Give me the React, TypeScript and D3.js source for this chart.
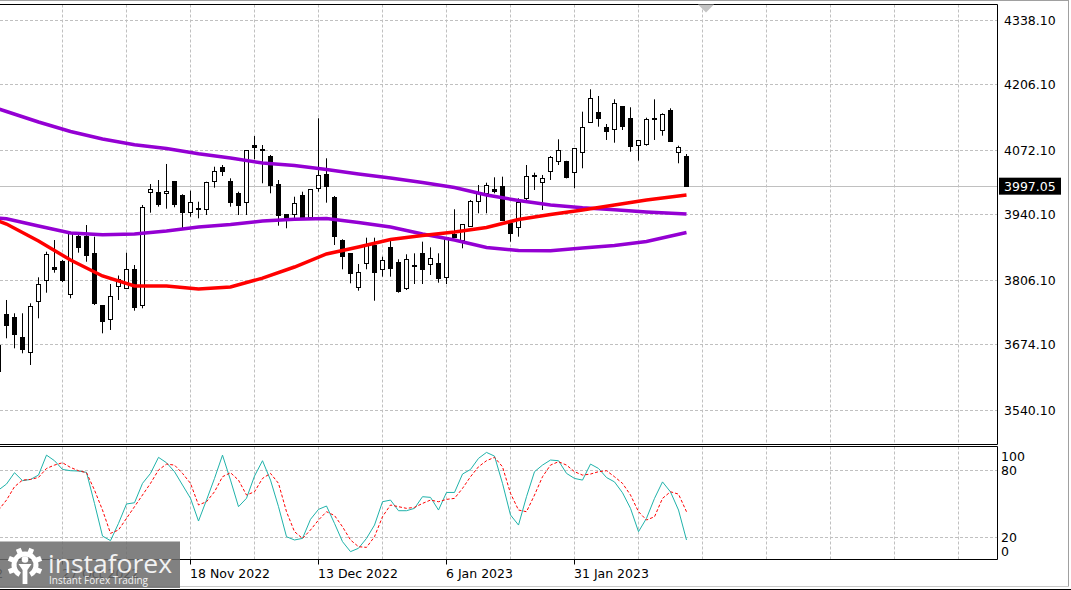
import * as d3 from 'd3';
import React from 'react';

const W = 1071;
const H = 590;

// daily bars, first one is cut by the left edge
const firstBar = -1;
// [open, high, low, close]
const ohlc: [number, number, number, number][] = [
  [3673.1, 3677.2, 3615.8, 3617.9],
  [3735.9, 3765.2, 3686.8, 3712.6],
  [3729.0, 3738.0, 3666.3, 3693.6],
  [3688.0, 3738.0, 3656.1, 3664.9],
  [3657.3, 3758.4, 3632.2, 3751.5],
  [3761.7, 3811.6, 3727.7, 3795.9],
  [3804.7, 3864.0, 3780.1, 3857.3],
  [3831.3, 3887.9, 3821.0, 3828.0],
  [3843.5, 3847.0, 3802.0, 3804.7],
  [3776.8, 3904.9, 3768.7, 3901.7],
  [3896.1, 3901.7, 3862.0, 3872.2],
  [3896.1, 3918.6, 3843.5, 3855.8],
  [3861.3, 3894.7, 3754.9, 3758.4],
  [3752.9, 3752.9, 3697.0, 3720.8],
  [3725.7, 3797.9, 3703.8, 3771.9],
  [3792.4, 3815.3, 3765.2, 3807.5],
  [3789.7, 3862.0, 3787.7, 3828.0],
  [3826.6, 3836.8, 3743.3, 3749.8],
  [3752.9, 3959.6, 3748.2, 3954.9],
  [3984.7, 4002.5, 3943.8, 3991.7],
  [3984.7, 4010.7, 3956.1, 3961.0],
  [3983.5, 4043.5, 3952.0, 3988.2],
  [4007.2, 4008.7, 3954.9, 3959.6],
  [3978.0, 3981.5, 3911.9, 3943.8],
  [3943.8, 3988.8, 3935.6, 3965.7],
  [3951.4, 3966.3, 3932.3, 3950.1],
  [3950.8, 4007.2, 3939.1, 4005.2],
  [4007.2, 4037.9, 3995.0, 4029.1],
  [4036.7, 4041.4, 4018.9, 4027.7],
  [4007.2, 4014.2, 3956.1, 3964.3],
  [3983.5, 3986.8, 3939.1, 3958.9],
  [3965.1, 4072.1, 3939.1, 4070.1],
  [4080.3, 4100.7, 4053.1, 4077.6],
  [4073.5, 4082.3, 4004.0, 4070.7],
  [4058.4, 4061.9, 3983.5, 3999.1],
  [4000.5, 4010.7, 3917.2, 3937.1],
  [3940.5, 3941.1, 3911.9, 3933.6],
  [3940.5, 3976.5, 3932.3, 3963.0],
  [3980.0, 3986.8, 3933.6, 3934.4],
  [3934.4, 3990.3, 3934.4, 3990.3],
  [3993.7, 4137.0, 3986.8, 4020.3],
  [4022.4, 4055.1, 3964.3, 3997.0],
  [3975.3, 3978.0, 3877.7, 3896.1],
  [3887.9, 3889.4, 3828.0, 3853.8],
  [3859.3, 3859.3, 3799.3, 3818.4],
  [3791.2, 3838.8, 3784.2, 3821.9],
  [3840.3, 3892.7, 3828.0, 3875.7],
  [3875.7, 3892.7, 3763.7, 3821.0],
  [3826.6, 3853.8, 3812.9, 3845.0],
  [3872.2, 3887.9, 3812.9, 3830.0],
  [3842.3, 3848.5, 3780.1, 3782.2],
  [3787.7, 3858.7, 3785.6, 3848.5],
  [3835.6, 3860.7, 3797.9, 3833.9],
  [3860.7, 3884.5, 3797.9, 3826.6],
  [3836.8, 3873.0, 3816.3, 3850.5],
  [3840.3, 3860.7, 3800.6, 3809.6],
  [3811.6, 3893.5, 3797.9, 3893.5],
  [3898.2, 3950.8, 3892.7, 3892.7],
  [3887.9, 3920.1, 3871.0, 3920.1],
  [3915.2, 3969.8, 3915.2, 3966.3],
  [3966.3, 4000.5, 3942.6, 3984.7],
  [3982.1, 4005.2, 3942.6, 3999.1],
  [3990.3, 4016.2, 3983.5, 3986.8],
  [3998.4, 4017.5, 3927.4, 3927.4],
  [3920.7, 3920.7, 3884.5, 3901.7],
  [3913.9, 3973.3, 3894.7, 3964.3],
  [3973.3, 4041.4, 3969.8, 4018.9],
  [4019.0, 4025.7, 3990.3, 4020.0],
  [4006.0, 4021.0, 3949.3, 4014.2],
  [4027.7, 4059.8, 4010.7, 4057.2],
  [4048.2, 4094.0, 4041.4, 4070.1],
  [4048.2, 4050.0, 4014.0, 4015.4],
  [4025.7, 4075.6, 3993.7, 4075.6],
  [4067.4, 4150.5, 4034.7, 4118.5],
  [4128.0, 4196.3, 4128.0, 4177.9],
  [4149.2, 4182.6, 4119.8, 4137.0],
  [4118.5, 4125.3, 4092.6, 4109.5],
  [4114.5, 4175.8, 4087.0, 4167.7],
  [4162.1, 4162.1, 4113.0, 4121.2],
  [4137.0, 4159.5, 4068.6, 4078.9],
  [4080.3, 4091.1, 4050.2, 4091.1],
  [4083.8, 4138.2, 4080.9, 4134.9],
  [4136.6, 4175.8, 4092.6, 4137.4],
  [4113.0, 4147.2, 4101.4, 4145.1],
  [4153.9, 4157.4, 4089.1, 4090.5],
  [4067.4, 4080.9, 4044.9, 4076.8],
  [4059.8, 4063.9, 3996.5, 3997.05],
];

// moving averages, read every 4th bar
const maBars = [-1, 0, 4, 8, 12, 16, 20, 24, 28, 32, 36, 40, 44, 48, 52, 56, 60, 64, 68, 72, 76, 80, 85];
const maSlow = [4156.4, 4150.9, 4129.4, 4110.0, 4094.6, 4082.9, 4075.2, 4064.5, 4055.7, 4045.5, 4040.4, 4032.2,
  4023.0, 4014.8, 4005.6, 3995.4, 3980.0, 3968.8, 3959.6, 3953.8, 3949.7, 3945.2, 3941.2];
const maMid = [3933.0, 3931.3, 3916.6, 3902.3, 3898.6, 3900.2, 3906.4, 3914.5, 3919.7, 3926.8, 3930.3, 3931.9,
  3923.8, 3914.5, 3900.2, 3887.9, 3872.6, 3866.5, 3865.8, 3871.6, 3876.7, 3884.9, 3903.3];
const maFast = [3926.8, 3920.7, 3885.9, 3847.0, 3814.3, 3793.8, 3793.8, 3787.7, 3791.8, 3810.0, 3832.7, 3859.3,
  3873.6, 3889.0, 3897.2, 3904.3, 3913.5, 3929.9, 3940.1, 3949.3, 3959.6, 3969.8, 3980.0];

// stochastic %K and %D, one value per bar
const stochK = [62.1, 67.5, 77.6, 70.5, 71.6, 75.5, 93.3, 88.3, 80.5, 79.4, 79.1, 77.9, 50.2, 21.1, 17.0, 32.4,
  49.7, 50.8, 68.1, 77.0, 91.3, 86.5, 78.5, 66.6, 54.8, 34.5, 53.2, 72.5, 93.3, 71.0, 47.3, 54.8, 74.6, 88.3,
  71.0, 47.3, 20.5, 17.6, 19.0, 36.0, 44.9, 47.9, 32.4, 16.1, 7.2, 10.2, 19.0, 30.9, 51.7, 53.2, 43.7, 43.7,
  45.8, 56.2, 55.6, 44.3, 60.0, 60.0, 76.4, 80.5, 90.4, 95.7, 92.4, 68.1, 39.9, 30.9, 56.2, 78.5, 84.4, 88.9,
  88.3, 77.0, 72.5, 71.0, 85.3, 81.4, 73.3, 69.4, 59.7, 45.8, 25.0, 36.9, 54.7, 69.4, 60.5, 44.3, 17.6];
const stochD = [44.3, 53.2, 65.1, 71.0, 71.6, 73.4, 81.4, 84.4, 86.5, 82.3, 79.4, 77.6, 62.1, 44.3, 23.5, 26.5,
  36.9, 47.3, 57.7, 68.1, 80.0, 85.3, 84.4, 77.0, 68.1, 48.8, 51.7, 60.6, 74.0, 77.6, 71.0, 57.7, 60.6, 72.5,
  77.0, 68.1, 42.8, 25.0, 19.0, 26.5, 35.4, 42.8, 39.4, 29.4, 17.6, 11.6, 11.0, 20.5, 38.4, 48.8, 47.3, 45.8,
  46.7, 50.2, 53.2, 51.7, 53.8, 54.7, 63.6, 74.0, 82.9, 88.3, 91.3, 82.9, 59.2, 44.3, 42.8, 57.7, 74.0, 84.4,
  87.4, 84.4, 78.5, 75.5, 76.4, 78.5, 79.4, 74.0, 68.1, 57.7, 42.8, 35.4, 38.3, 54.7, 60.6, 58.5, 42.8];

const priceTicks = [3540.1, 3674.1, 3806.1, 3940.1, 4072.1, 4206.1, 4338.1];
const lastPrice = 3997.05;
const stochTicks = [100, 80, 20, 0];
const stochLevels = [80, 20];
const dateLabels = ['5 Oct 2022', '27 Oct 2022', '18 Nov 2022', '13 Dec 2022', '6 Jan 2023', '31 Jan 2023'];
const dateBars = [-9, 7, 23, 39, 55, 71];

const plotR = 997.5;
const mainT = 4.5;
const mainB = 444.5;
const stT = 446.5;
const stB = 559.5;
const font = 'DejaVu Sans';

const App: React.FC = () => {
  const x = d3.scaleLinear().domain([0, 85]).range([6.5, 686.5]);
  const y = d3.scaleLinear().domain([3540.1, 4338.1]).range([410, 20]);
  const ys = d3.scaleLinear().domain([0, 100]).range([559.7, 447.6]);
  const crisp = (v: number) => Math.round(v - 0.5) + 0.5;

  const gridBars = d3.range(7, 121, 8);

  const maLine = d3
    .line<number>()
    .x((_, k) => x(maBars[k]))
    .y((v) => y(v));
  const stLine = d3
    .line<number>()
    .x((_, k) => x(firstBar + k))
    .y((v) => ys(v));

  const gearRing = d3.arc()({
    innerRadius: 8.5,
    outerRadius: 13.5,
    startAngle: Math.PI + 0.5,
    endAngle: 3 * Math.PI - 0.5,
  } as any) as string;
  const teeth = [22.5, 67.5, 112.5, 247.5, 292.5, 337.5];

  const stochLabelY = (v: number) => (v === 100 ? ys(v) + 8.5 : v === 0 ? ys(v) - 8.5 : ys(v));

  return (
    <svg
      width={W}
      height={H}
      style={{ position: 'absolute', left: 0, top: 0, display: 'block', background: '#fff' }}
    >
      <defs>
        <clipPath id="mainClip">
          <rect x={0} y={mainT} width={plotR} height={mainB - mainT} />
        </clipPath>
        <clipPath id="stClip">
          <rect x={0} y={stT} width={plotR} height={stB - stT} />
        </clipPath>
      </defs>
      <rect x={0} y={0} width={W} height={H} fill="#fff" />

      {/* grid */}
      <g stroke="#c0c0c0" strokeDasharray="3,2" fill="none">
        {priceTicks.map((p) => (
          <line key={p} x1={0} x2={plotR} y1={crisp(y(p))} y2={crisp(y(p))} />
        ))}
        {stochLevels.map((v) => (
          <line key={v} x1={0} x2={plotR} y1={crisp(ys(v))} y2={crisp(ys(v))} />
        ))}
        {gridBars.map((b) => (
          <g key={b}>
            <line x1={x(b)} x2={x(b)} y1={mainT} y2={mainB} />
            <line x1={x(b)} x2={x(b)} y1={stT} y2={stB} />
          </g>
        ))}
      </g>

      {/* bid line */}
      <line x1={0} x2={plotR} y1={crisp(y(lastPrice))} y2={crisp(y(lastPrice))} stroke="#c0c0c0" />

      {/* candles */}
      <g clipPath="url(#mainClip)">
        {ohlc.map(([o, h, l, c], k) => {
          const cx = x(firstBar + k);
          const top = crisp(y(Math.max(o, c)));
          const bot = crisp(y(Math.min(o, c)));
          return (
            <g key={k}>
              <line x1={cx} x2={cx} y1={y(h)} y2={y(l)} stroke="#000" />
              <rect
                x={cx - 2}
                y={top}
                width={4}
                height={Math.max(bot - top, 1)}
                fill={c >= o ? '#fff' : '#000'}
                stroke="#000"
              />
            </g>
          );
        })}
        <path d={maLine(maSlow) ?? ''} fill="none" stroke="#9400d3" strokeWidth={3.5} />
        <path d={maLine(maMid) ?? ''} fill="none" stroke="#9400d3" strokeWidth={3.5} />
        <path d={maLine(maFast) ?? ''} fill="none" stroke="#ff0000" strokeWidth={3.5} />
      </g>

      {/* stochastic */}
      <g clipPath="url(#stClip)" fill="none">
        <path d={stLine(stochK) ?? ''} stroke="#20b2aa" strokeWidth={1} />
        <path d={stLine(stochD) ?? ''} stroke="#ff0000" strokeWidth={1} strokeDasharray="3,2" />
      </g>

      {/* frames */}
      <g fill="none" stroke="#000">
        <line x1={0} x2={plotR} y1={mainT} y2={mainT} />
        <line x1={0} x2={plotR} y1={mainB} y2={mainB} />
        <line x1={plotR} x2={plotR} y1={mainT} y2={mainB} />
        <line x1={0} x2={plotR} y1={stT} y2={stT} />
        <line x1={0} x2={plotR} y1={stB} y2={stB} />
        <line x1={plotR} x2={plotR} y1={stT} y2={stB} />
      </g>
      <polygon points="698,4.5 714,4.5 706,12.5" fill="#c4c4c4" />

      {/* price axis */}
      <g fontFamily={font} fontSize={12.5} fill="#000">
        {priceTicks.map((p) => (
          <text key={p} x={1004} y={y(p)} dy="0.36em">
            {p.toFixed(2)}
          </text>
        ))}
      </g>
      <rect x={999} y={y(lastPrice) - 9} width={62} height={17} fill="#000" />
      <text x={1004} y={y(lastPrice)} dy="0.36em" fontFamily={font} fontSize={12.5} fill="#fff">
        {lastPrice.toFixed(2)}
      </text>

      {/* stochastic axis */}
      <g fontFamily={font} fontSize={12.5} fill="#000">
        {stochTicks.map((v) => (
          <text key={v} x={1001} y={stochLabelY(v)} dy="0.36em">
            {v}
          </text>
        ))}
      </g>

      {/* time axis */}
      <g fontFamily={font} fontSize={12.5} fill="#000">
        {dateBars.map((b, k) => (
          <g key={b}>
            <line x1={x(b)} x2={x(b)} y1={stB} y2={stB + 5} stroke="#000" />
            <text x={x(b) - 0.5} y={578}>
              {dateLabels[k]}
            </text>
          </g>
        ))}
      </g>

      {/* window border */}
      <line x1={0} x2={1069} y1={0.5} y2={0.5} stroke="#a0a0a0" />
      <line x1={1068.5} x2={1068.5} y1={0} y2={587} stroke="#a0a0a0" />
      <line x1={0} x2={1069} y1={586.5} y2={586.5} stroke="#c8c8c8" />
      <line x1={0} x2={W} y1={589.5} y2={589.5} stroke="#000" />

      {/* watermark */}
      <g>
        <rect x={0} y={541.5} width={180} height={46.5} fill="#6b6b6b" opacity={0.85} />
        <g transform="translate(25,565)" fill="#fff">
          <path d={gearRing} />
          {teeth.map((a) => (
            <rect key={a} x={-2.6} y={-17.5} width={5.2} height={5} transform={`rotate(${a})`} />
          ))}
          <circle cx={0} cy={-5.5} r={3.3} />
          <path d="M-6.5,-1 L6.5,-1 L2.4,5 L2.4,19 L-2.4,19 L-2.4,5 Z" />
        </g>
        <text
          x={48}
          y={573}
          fontFamily="Open Sans"
          fontSize={25}
          fill="#f2f2f2"
          textLength={124}
          lengthAdjust="spacingAndGlyphs"
        >
          instaforex
        </text>
        <text
          x={49}
          y={583.5}
          fontFamily="Open Sans"
          fontSize={10.5}
          fill="#f2f2f2"
          textLength={99}
          lengthAdjust="spacingAndGlyphs"
        >
          Instant Forex Trading
        </text>
      </g>
    </svg>
  );
};

export default App;
